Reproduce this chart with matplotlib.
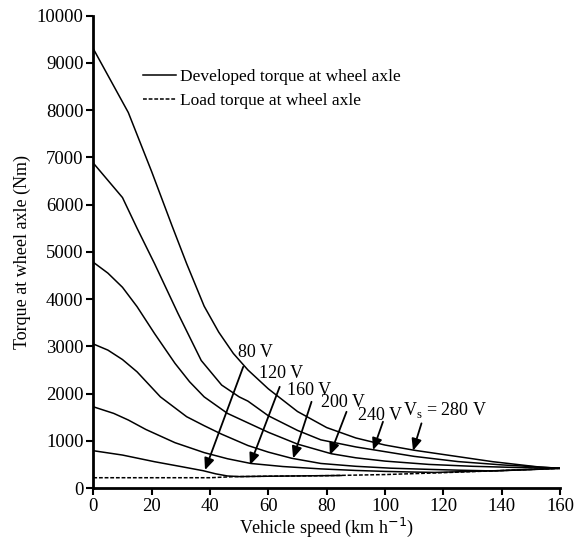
import matplotlib
matplotlib.use("Agg")
import matplotlib.pyplot as plt

plt.rcParams["font.family"] = ["Liberation Serif", "DejaVu Serif"]

# developed torque curves, one per supply voltage (km/h, Nm)
speed_280 = [0, 12, 20, 27, 32, 38, 43, 48, 53, 60, 70, 80, 90, 100, 110, 120, 137, 153, 160]
torque_280 = [9300, 7950, 6700, 5550, 4750, 3850, 3300, 2850, 2500, 2100, 1620, 1280, 1060, 910, 800, 710, 557, 444, 417]

speed_240 = [0, 10, 15, 21, 29, 37, 44, 50, 53, 60, 70, 78, 90, 96, 110, 125, 140, 153, 160]
torque_240 = [6880, 6150, 5500, 4750, 3700, 2700, 2180, 1930, 1840, 1530, 1220, 1020, 870, 810, 670, 560, 490, 444, 417]

speed_200 = [0, 5, 10, 15, 21, 28, 33, 38, 46, 53, 60, 70, 81.6, 90, 100, 115, 130, 148, 160]
torque_200 = [4780, 4550, 4250, 3840, 3270, 2640, 2250, 1930, 1580, 1380, 1180, 930, 726, 640, 570, 500, 460, 430, 417]

speed_160 = [0, 5, 10, 15, 23, 32, 38, 44, 53, 60, 68, 78, 90, 102, 115, 125, 137, 150, 160]
torque_160 = [3050, 2920, 2720, 2460, 1930, 1510, 1320, 1140, 900, 760, 630, 520, 460, 420, 395, 378, 362, 390, 417]

speed_120 = [0, 7, 12, 18, 28, 38, 46, 54, 65, 78, 90, 100, 110, 117, 140, 160]
torque_120 = [1720, 1580, 1440, 1240, 960, 750, 620, 520, 455, 405, 372, 352, 338, 330, 370, 417]

speed_80 = [0, 10, 21, 30, 37.7, 42, 46, 50, 60, 80, 85]
torque_80 = [790, 698, 557, 455, 366, 300, 255, 242, 250, 262, 265]

# load torque
speed_load = [0, 40, 48, 60, 80, 100, 120, 140, 160]
torque_load = [218, 218, 240, 250, 262, 285, 325, 370, 417]

# labels: text, text position, arrow start, arrow tip (data coords)
labels = ["80 V", "120 V", "160 V", "200 V", "240 V", r"V$_\mathregular{s}$ = 280 V"]
label_pos = [(55.7, 2878), (64.3, 2433), (73.9, 2074), (85.5, 1820), (98.2, 1545), (120.4, 1650)]
arrow_from = [(51.4, 2567), (63.9, 2143), (74.8, 1826), (86.8, 1614), (99.3, 1403), (112.5, 1369)]
arrow_to = [(38.3, 381), (53.7, 487), (68.5, 628), (81.1, 698), (95.9, 804), (109.6, 789)]

xticks = [0, 20, 40, 60, 80, 100, 120, 140, 160]
yticks = [0, 1000, 2000, 3000, 4000, 5000, 6000, 7000, 8000, 9000, 10000]


fig = plt.figure(figsize=(5.81, 5.44), dpi=100)
ax = fig.add_axes([0.1606, 0.1029, 0.8033, 0.8682])

curves = [(speed_280, torque_280), (speed_240, torque_240), (speed_200, torque_200),
          (speed_160, torque_160), (speed_120, torque_120), (speed_80, torque_80)]

ax.plot(speed_load, torque_load, color="black", lw=1.1, ls=(0, (2.5, 1.2)),
        label="Load torque at wheel axle", zorder=2)
for i, (s, t) in enumerate(curves):
    ax.plot(s, t, color="black", lw=1.1,
            label="Developed torque at wheel axle" if i == 0 else None, zorder=3)

for txt, pos, a0, a1 in zip(labels, label_pos, arrow_from, arrow_to):
    ax.text(pos[0], pos[1], txt, fontsize=13, ha="center", va="center")
    ax.annotate("", xy=a1, xytext=a0,
                arrowprops=dict(arrowstyle="-|>,head_length=0.7,head_width=0.3",
                                color="black", lw=1.3, shrinkA=0, shrinkB=0))

ax.set_xlim(0, 160)
ax.set_ylim(0, 10000)
ax.set_xticks(xticks)
ax.set_yticks(yticks)
ax.tick_params(direction="out", length=5, width=1.5, labelsize=13.5, pad=2)
for side in ["top", "right"]:
    ax.spines[side].set_visible(False)
for side in ["left", "bottom"]:
    ax.spines[side].set_linewidth(2)

ax.set_xlabel("Vehicle speed (km h$^{-1}$)", fontsize=13, labelpad=1)
ax.set_ylabel("Torque at wheel axle (Nm)", fontsize=13, labelpad=4)

handles, lbls = ax.get_legend_handles_labels()
ax.legend(handles[::-1], lbls[::-1], loc="upper left", bbox_to_anchor=(0.088, 0.905),
          frameon=False, fontsize=12.5, handlelength=1.9, handletextpad=0.2,
          labelspacing=0.45, borderpad=0)

fig.savefig("out.png", dpi=100)
plt.close()
